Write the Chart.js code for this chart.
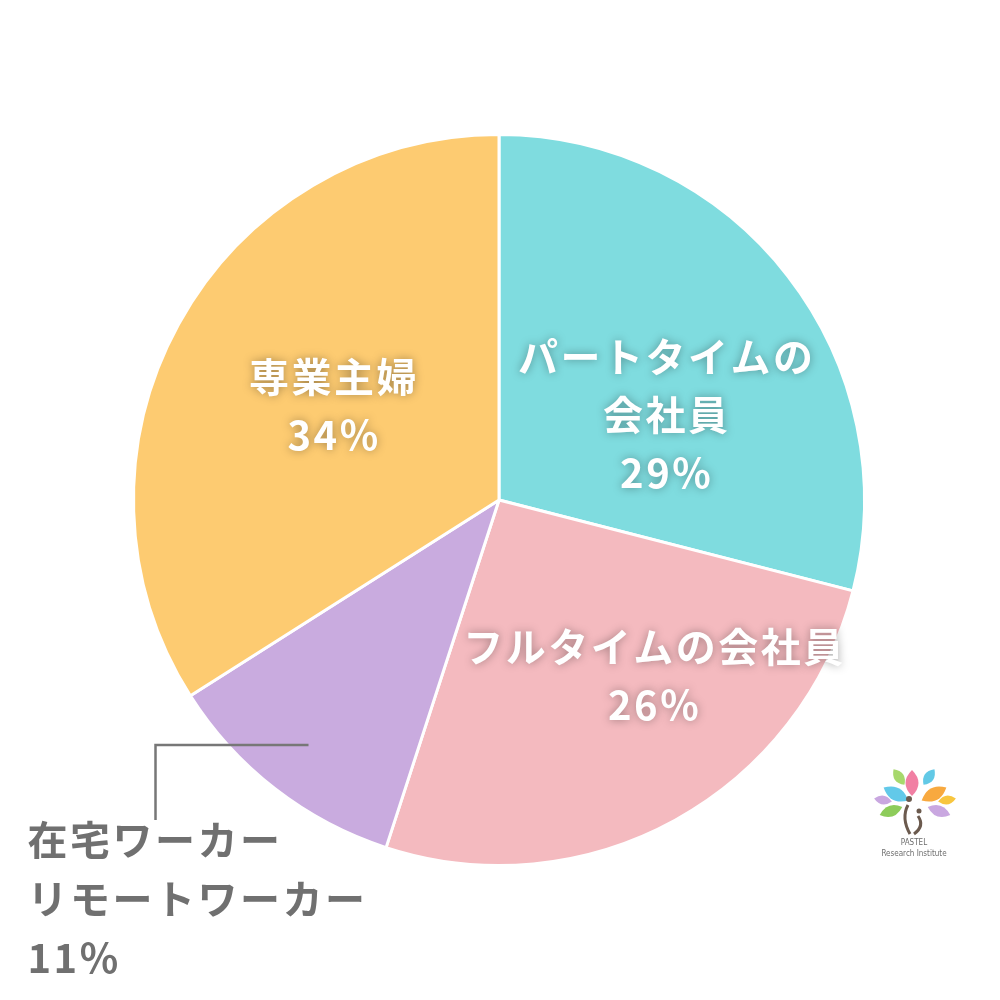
<!DOCTYPE html>
<html>
<head>
<meta charset="utf-8">
<script src="https://cdn.jsdelivr.net/npm/chart.js@4"></script>
<style>
  html, body { margin: 0; padding: 0; background: #fff; }
  #wrap { width: 1000px; height: 1000px; }
</style>
</head>
<body>
<div id="wrap"><canvas id="pieChart" width="1000" height="1000"></canvas></div>
<script>
const labels = ['パートタイムの会社員', 'フルタイムの会社員', '在宅ワーカー リモートワーカー', '専業主婦'];
const values = [29, 26, 11, 34];
const labelLines = [
  ['パートタイムの', '会社員'],
  ['フルタイムの会社員'],
  ['在宅ワーカー', 'リモートワーカー'],
  ['専業主婦']
];
const colors = ['#7fdcdf', '#f4babf', '#c9abdf', '#fdcb71'];

// label placement, as fractions of the pie radius from its centre
const labelPos = [
  { x: 0.456, y: -0.232, inside: true },
  { x: 0.423, y: 0.481, inside: true },
  { x: -1.29, y: 0.93, inside: false },
  { x: -0.454, y: -0.257, inside: true }
];

const FONT = '"Noto Sans CJK JP", "Noto Sans", sans-serif';

const sliceLabels = {
  id: 'sliceLabels',
  afterDatasetsDraw(chart) {
    const ctx = chart.ctx;
    const arcs = chart.getDatasetMeta(0).data;
    const total = values.reduce((a, b) => a + b, 0);
    arcs.forEach((arc, i) => {
      const r = arc.outerRadius;
      const cx = arc.x, cy = arc.y;
      const lines = labelLines[i].concat([Math.round(values[i] / total * 100) + '%']);
      const pos = labelPos[i];
      const lh = 58;
      ctx.save();
      ctx.font = 'bold 40px ' + FONT;
      ctx.letterSpacing = '2.5px';
      ctx.textBaseline = 'middle';
      if (pos.inside) {
        const x = cx + pos.x * r;
        const y0 = cy + pos.y * r - (lines.length - 1) * lh / 2;
        ctx.textAlign = 'center';
        ctx.fillStyle = '#ffffff';
        ctx.shadowColor = 'rgba(0,0,0,0.35)';
        ctx.shadowBlur = 10;
        lines.forEach((t, k) => ctx.fillText(t, x + 1, y0 + k * lh));
      } else {
        // callout for the small slice
        const x = cx + pos.x * r;
        const y0 = cy + pos.y * r;
        ctx.strokeStyle = '#777777';
        ctx.lineWidth = 2.5;
        ctx.beginPath();
        ctx.moveTo(x + 128, y0 - 20);
        ctx.lineTo(x + 128, y0 - 95);
        ctx.lineTo(x + 281, y0 - 95);
        ctx.stroke();
        ctx.textAlign = 'left';
        ctx.fillStyle = '#707070';
        lines.forEach((t, k) => ctx.fillText(t, x, y0 + k * 59));
      }
      ctx.restore();
    });
  }
};

function leaf(ctx, x, y, len, wid, ang, col) {
  ctx.save();
  ctx.translate(x, y);
  ctx.rotate(ang * Math.PI / 180);
  ctx.fillStyle = col;
  ctx.beginPath();
  ctx.moveTo(0, -len / 2);
  ctx.quadraticCurveTo(wid, 0, 0, len / 2);
  ctx.quadraticCurveTo(-wid, 0, 0, -len / 2);
  ctx.fill();
  ctx.restore();
}

const logo = {
  id: 'logo',
  afterDraw(chart) {
    const ctx = chart.ctx;
    leaf(ctx, 912, 783, 26, 13, 0, '#f17fa3');
    leaf(ctx, 899, 777, 19, 10, -35, '#a7d86c');
    leaf(ctx, 929, 777, 19, 10, 35, '#62c9e6');
    leaf(ctx, 896, 794, 28, 13, -62, '#62c9e9');
    leaf(ctx, 934, 794, 28, 13, 62, '#f8a93f');
    leaf(ctx, 883, 800, 18, 9, -80, '#c9a7e0');
    leaf(ctx, 947, 800, 18, 9, 80, '#f8c63f');
    leaf(ctx, 891, 811, 24, 11, -110, '#8dcc5a');
    leaf(ctx, 939, 811, 24, 11, 110, '#c9a7e0');
    ctx.save();
    ctx.strokeStyle = '#6b5a4e';
    ctx.fillStyle = '#6b5a4e';
    ctx.lineWidth = 3;
    ctx.beginPath();
    ctx.arc(909, 799, 3, 0, Math.PI * 2);
    ctx.arc(919, 811, 2.5, 0, Math.PI * 2);
    ctx.fill();
    ctx.beginPath();
    ctx.moveTo(908, 805);
    ctx.quadraticCurveTo(901, 818, 910, 834);
    ctx.moveTo(918, 816);
    ctx.quadraticCurveTo(925, 826, 914, 834);
    ctx.stroke();
    ctx.fillStyle = '#6d6d6d';
    ctx.textAlign = 'center';
    ctx.textBaseline = 'middle';
    ctx.font = '8px "Liberation Sans Narrow", "DejaVu Sans Condensed", sans-serif';
    ctx.fillText('PASTEL', 914, 843);
    ctx.fillText('Research Institute', 914, 854);
    ctx.restore();
  }
};

document.addEventListener('DOMContentLoaded', () => {
  new Chart(document.getElementById('pieChart'), {
    type: 'pie',
    data: {
      labels: labels,
      datasets: [{
        data: values,
        backgroundColor: colors,
        borderColor: '#ffffff',
        borderWidth: 3
      }]
    },
    options: {
      responsive: false,
      animation: false,
      layout: { padding: { left: 132, right: 134, top: 133, bottom: 133 } },
      plugins: {
        legend: { display: false },
        tooltip: { enabled: false }
      }
    },
    plugins: [sliceLabels, logo]
  });
});
</script>
</body>
</html>
